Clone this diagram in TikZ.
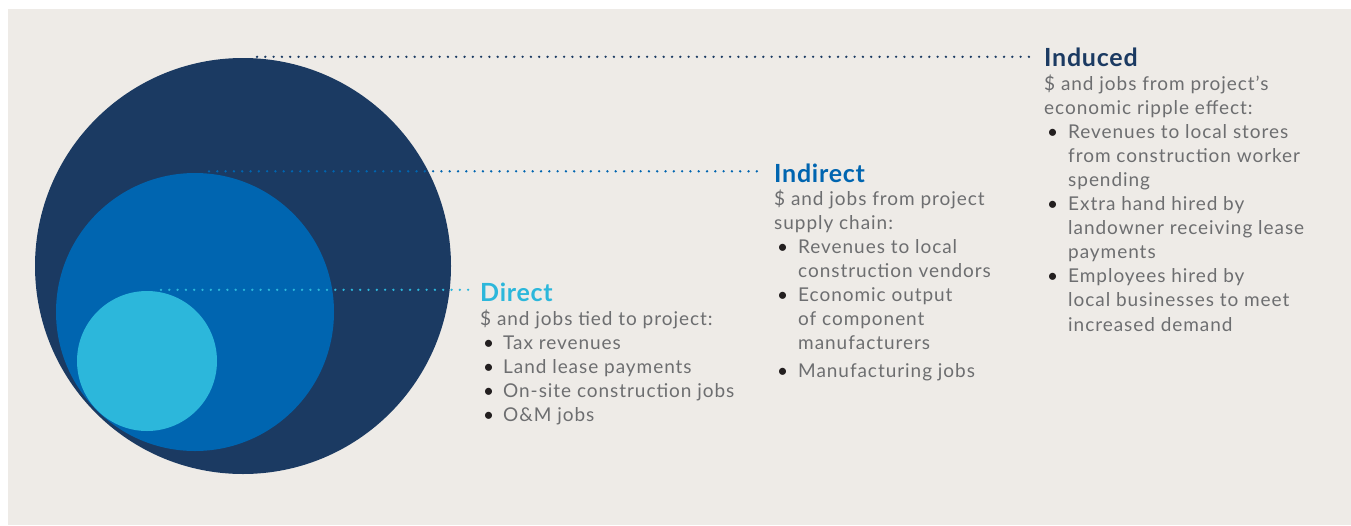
\documentclass[tikz,border=0pt]{standalone}
\usepackage{fontspec}
\setmainfont{Lato}
\usetikzlibrary{positioning}

\definecolor{navy}{HTML}{1B3A62}
\definecolor{midblue}{HTML}{0065B0}
\definecolor{skyblue}{HTML}{2CB7DB}
\definecolor{panel}{HTML}{EEEBE7}
\definecolor{txtgray}{HTML}{6D6E70}
\definecolor{bulcol}{HTML}{231F20}

\newcommand{\bodyfont}{\fontsize{19}{24}\selectfont\addfontfeatures{LetterSpace=5}}
\newcommand{\headfont}{\fontsize{25}{24}\selectfont\bfseries\addfontfeatures{LetterSpace=3}}
\newcommand{\bul}{\hspace*{3pt}\textcolor{bulcol}{\textbullet}}
\newcommand{\wide}[1]{\multicolumn{2}{@{}l@{}}{#1}}

\begin{document}
\begin{tikzpicture}[x=1pt,y=-1pt,
  ring/.style={circle,inner sep=0pt},
  head/.style={anchor=base west,inner sep=0pt,font=\headfont},
  body/.style={anchor=base west,inner sep=0pt,font=\bodyfont,text=txtgray},
  dotline/.style={line width=2.6pt,line cap=round,dash pattern=on 0pt off 8.3pt,
    shorten <=14pt,shorten >=11pt}]
\useasboundingbox (0,0) rectangle (1351,525);
\fill[panel] (8,9) rectangle (1351,525);

% circles
\node[ring,fill=navy,minimum size=416] (outer) at (243,266) {};
\node[ring,fill=midblue,minimum size=278] (middle) at (195,312) {};
\node[ring,fill=skyblue,minimum size=140] (inner) at (147,361) {};

% titles
\node[head,text=navy] (induced) at (1044,66) {Induced};
\node[head,text=midblue] (indirect) at (774,182) {Indirect};
\node[head,text=skyblue] (direct) at (480,301) {Direct};

% lists
\node[body] (inducedlist) at ([yshift=-24pt]induced.base west) {%
\begin{tabular}[t]{@{}p{24pt}@{}l@{}}
\wide{\$ and jobs from project's}\\
\wide{economic ripple effect:}\\
\bul & Revenues to local stores\\
 & from construction worker\\
 & spending\\
\bul & Extra hand hired by\\
 & landowner receiving lease\\
 & payments\\
\bul & Employees hired by\\
 & local businesses to meet\\[1pt]
 & increased demand
\end{tabular}};

\node[body] (indirectlist) at ([yshift=-23pt]indirect.base west) {%
\begin{tabular}[t]{@{}p{24pt}@{}l@{}}
\wide{\$ and jobs from project}\\
\wide{supply chain:}\\
\bul & Revenues to local\\
 & construction vendors\\
\bul & Economic output\\
 & of component\\
 & manufacturers\\[4pt]
\bul & Manufacturing jobs
\end{tabular}};

\node[body] (directlist) at ([yshift=-24pt]direct.base west) {%
\begin{tabular}[t]{@{}p{23pt}@{}l@{}}
\wide{\$ and jobs tied to project:}\\
\bul & Tax revenues\\
\bul & Land lease payments\\
\bul & On-site construction jobs\\
\bul & O\&M jobs
\end{tabular}};

% leaders
\draw[dotline,navy] ([yshift=1pt]outer.north) -- ([yshift=1pt]outer.north -| induced.west);
\draw[dotline,midblue] ([yshift=1.5pt]middle.north) -- ([yshift=1.5pt]middle.north -| indirect.west);
\draw[dotline,skyblue] ([yshift=1pt]inner.north) -- ([yshift=1pt]inner.north -| direct.west);
\end{tikzpicture}
\end{document}
